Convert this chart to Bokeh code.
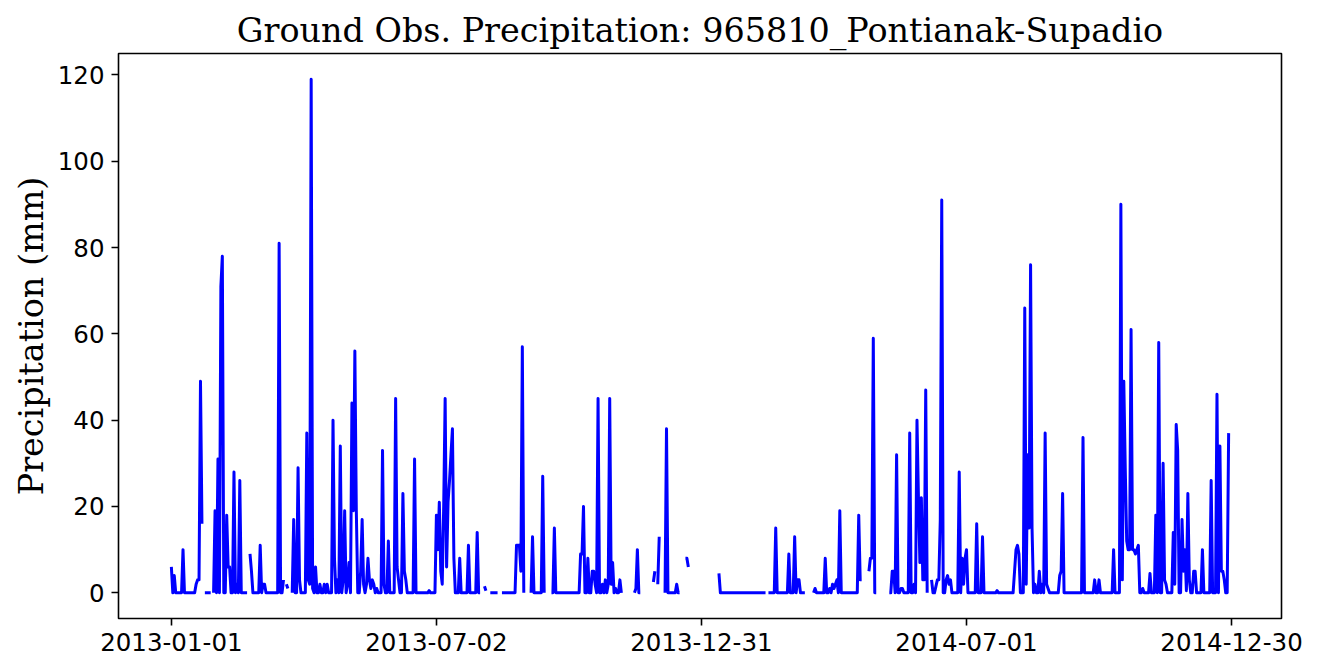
import numpy as np
import pandas as pd
from bokeh.plotting import figure
from bokeh.models import ColumnDataSource, Range1d, FixedTicker, DatetimeTickFormatter
from bokeh.embed import file_html
from bokeh.resources import INLINE

station = "965810_Pontianak-Supadio"
first_date = "2013-01-01"
n_days = 727

# day number (since first_date) of each rainy day, and its precipitation (mm)
wet_day = [0, 2, 8, 17, 18, 19, 20, 21, 30, 32, 34, 35, 38, 39, 40, 43, 45, 47, 54, 55,
           61, 63, 64, 74, 77, 79, 80, 84, 87, 88, 93, 94, 95, 96, 97, 99, 102, 105, 107,
           111, 112, 114, 116, 118, 119, 121, 122, 124, 125, 126, 127, 130, 131, 132, 134,
           135, 136, 137, 138, 139, 141, 145, 146, 149, 154, 155, 156, 159, 160, 161, 167,
           177, 182, 183, 184, 185, 186, 187, 188, 189, 190, 191, 192, 193, 194, 198, 204,
           210, 215, 216, 237, 238, 239, 240, 241, 248, 255, 263, 281, 282, 283, 286, 289,
           290, 291, 293, 296, 298, 300, 301, 302, 303, 305, 308, 319, 320, 331, 332, 334,
           335, 340, 347, 353, 354, 355, 376, 415, 424, 428, 430, 431, 442, 449, 452, 454,
           455, 456, 457, 459, 472, 473, 474, 479, 480, 481, 482, 495, 496, 498, 501, 502,
           507, 510, 512, 513, 514, 515, 516, 517, 518, 522, 525, 526, 527, 528, 529, 532,
           533, 534, 535, 541, 543, 544, 545, 546, 553, 557, 567, 579, 580, 581, 582, 586,
           587, 588, 589, 590, 591, 593, 596, 598, 600, 601, 602, 610, 611, 612, 626, 634,
           637, 647, 652, 653, 654, 655, 656, 657, 658, 659, 660, 661, 662, 663, 664, 667,
           672, 676, 678, 681, 682, 683, 688, 689, 690, 691, 694, 695, 696, 697, 698, 699,
           702, 703, 708, 714, 718, 720, 721, 722, 723, 726]
wet_mm = [6, 4, 10, 2, 3, 3, 49, 16, 19, 31, 71, 78, 18, 6, 6, 28, 2, 26, 9, 5,
          11, 2, 2, 81, 3, 2, 1, 17, 29, 3, 37, 3, 2, 119, 1, 6, 2, 2, 2,
          40, 8, 3, 34, 3, 19, 2, 7, 44, 19, 56, 19, 5, 17, 2, 2,
          8, 3, 1, 3, 2, 1, 33, 2, 12, 45, 6, 3, 23, 5, 3, 31,
          0.5, 18, 10, 21, 5, 2, 20, 45, 6, 21, 26, 32, 38, 8, 8, 11,
          14, 1.5, 0.5, 11, 11, 11, 5, 57, 13, 27, 15, 9, 9, 20, 8, 5,
          5, 2, 45, 2, 3, 2, 45, 2, 7, 1, 3, 1, 10, 2.5, 5, 2,
          13, 38, 2, 8, 8, 6, 4.5, 15, 9, 13, 3, 3, 1, 8, 1, 2,
          1, 2, 3, 19, 18, 3, 3, 5, 8, 8, 59, 5, 5, 32, 1, 1,
          37, 2, 40, 22, 7, 22, 3, 3, 47, 3, 1.5, 3, 3, 17, 91, 3,
          4, 2, 3, 28, 8, 2, 8, 10, 16, 13, 0.5, 5, 10, 11, 9, 66,
          2, 32, 15, 76, 15, 2, 5, 2, 37, 2, 1, 4, 5, 23, 36, 3,
          3, 10, 90, 3, 49, 29, 12, 10, 10, 61, 10, 10, 9, 10, 11, 1,
          4.5, 18, 58, 30, 3, 2, 14, 2, 39, 33, 17, 5, 10, 0.5, 23, 3,
          5, 5, 10, 26, 46, 34, 5, 5, 3, 37]

# missing observations (inclusive day ranges)
gap_first = [22, 28, 53, 78, 81, 213, 217, 225, 243, 257, 310, 323, 333, 336, 350, 356,
             409, 436, 475, 485, 520]
gap_last = [22, 28, 53, 78, 82, 214, 218, 226, 246, 260, 317, 330, 333, 338, 352, 375,
            409, 440, 478, 492, 521]

tick_dates = ["2013-01-01", "2013-07-02", "2013-12-31", "2014-07-01", "2014-12-30"]
y_ticks = [0, 20, 40, 60, 80, 100, 120]

vals = np.zeros(n_days)
vals[np.array(wet_day)] = wet_mm
for a, b in zip(gap_first, gap_last):
    vals[a:b + 1] = np.nan
t0 = pd.Timestamp(first_date)
dates = t0 + pd.to_timedelta(np.arange(n_days), unit="D")
src = ColumnDataSource(data=dict(date=dates, mm=vals))

span = n_days - 1
x_start = (t0 - pd.Timedelta(days=0.05 * span)).to_pydatetime()
x_end = (t0 + pd.Timedelta(days=1.05 * span)).to_pydatetime()
ymax = np.nanmax(vals)
y_range = Range1d(-0.05 * ymax, 1.05 * ymax)

p = figure(width=1312, height=669, x_axis_type="datetime", output_backend="svg",
           toolbar_location=None, x_range=Range1d(x_start, x_end), y_range=y_range,
           min_border_left=118, min_border_right=31, min_border_top=53, min_border_bottom=51)

p.title.text = "Ground Obs. Precipitation: " + station
p.title.align = "center"
p.title.text_font = "DejaVu Serif"
p.title.text_font_size = "33.4px"
p.title.text_font_style = "normal"
p.title.text_color = "black"
p.title.standoff = 8

p.line("date", "mm", source=src, line_color="#0000ff", line_width=3, line_join="round")

p.xgrid.visible = False
p.ygrid.visible = False
p.outline_line_color = "black"
p.outline_line_width = 1.6
p.outline_line_alpha = 1.0
p.background_fill_color = "white"
p.border_fill_color = "white"

tick_ms = [int(pd.Timestamp(d).value // 10**6) for d in tick_dates]
p.xaxis.ticker = FixedTicker(ticks=tick_ms)
fmt = "%Y-%m-%d"
p.xaxis.formatter = DatetimeTickFormatter(milliseconds=fmt, seconds=fmt, minsec=fmt, minutes=fmt,
                                          hourmin=fmt, hours=fmt, days=fmt, months=fmt, years=fmt)
p.yaxis.ticker = FixedTicker(ticks=y_ticks)

for ax in [p.xaxis[0], p.yaxis[0]]:
    ax.axis_line_color = None
    ax.major_tick_out = 7
    ax.major_tick_in = 0
    ax.major_tick_line_width = 1.6
    ax.major_tick_line_color = "black"
    ax.minor_tick_out = 0
    ax.minor_tick_in = 0
    ax.major_label_standoff = 7
    ax.major_label_text_font = "DejaVu Sans"
    ax.major_label_text_font_size = "24.5px"
    ax.major_label_text_color = "black"

p.yaxis.axis_label = "Precipitation (mm)"
p.yaxis.axis_label_text_font = "DejaVu Serif"
p.yaxis.axis_label_text_font_size = "33.4px"
p.yaxis.axis_label_text_font_style = "normal"
p.yaxis.axis_label_text_color = "black"
p.yaxis.axis_label_standoff = 4

open("out.html", "w").write(file_html(p, INLINE))
